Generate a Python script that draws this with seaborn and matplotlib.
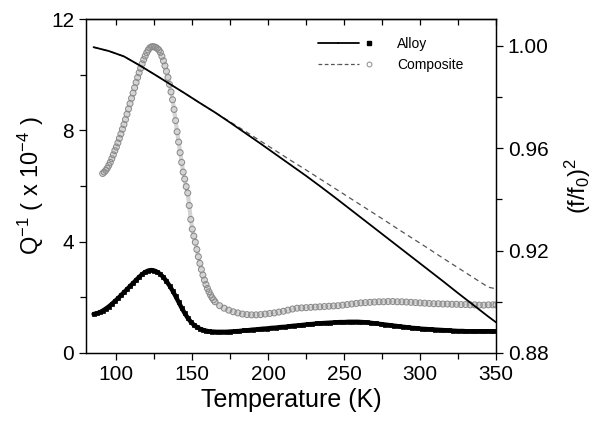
import numpy as np
import pandas as pd
import matplotlib
matplotlib.use('Agg')
import matplotlib.pyplot as plt
from matplotlib.lines import Line2D
from matplotlib.legend_handler import HandlerTuple
import seaborn as sns

# internal friction Q^-1 (x 10^-4), alloy (filled squares)
T_alloy = [85, 87, 89, 91, 93, 95, 97, 99, 101, 103, 105, 107, 109, 111, 113, 115, 117, 119,
           121, 123, 125, 127, 129, 131, 133, 135, 137, 139, 141, 143, 145, 147, 149, 151,
           153, 155, 157, 159, 161, 163, 166, 169, 172, 175, 178, 181, 184, 187, 190, 193,
           196, 199, 202, 205, 208, 211, 214, 217, 220, 223, 226, 229, 232, 235, 238, 241,
           244, 247, 250, 253, 256, 259, 262, 265, 268, 271, 274, 277, 280, 283, 286, 289,
           292, 295, 298, 301, 304, 307, 310, 313, 316, 319, 322, 325, 328, 331, 334, 337,
           340, 343, 346, 349]
Q_alloy = [1.40, 1.42, 1.46, 1.52, 1.59, 1.67, 1.76, 1.86, 1.96, 2.07, 2.18, 2.29, 2.40, 2.51,
           2.62, 2.73, 2.83, 2.91, 2.96, 2.98, 2.96, 2.91, 2.83, 2.72, 2.58, 2.42, 2.24, 2.04,
           1.83, 1.62, 1.43, 1.26, 1.12, 1.01, 0.93, 0.87, 0.83, 0.80, 0.78, 0.77, 0.76, 0.76,
           0.76, 0.77, 0.78, 0.79, 0.81, 0.82, 0.84, 0.85, 0.87, 0.88, 0.90, 0.91, 0.93, 0.94,
           0.96, 0.98, 0.99, 1.01, 1.03, 1.04, 1.06, 1.07, 1.08, 1.09, 1.10, 1.11, 1.11, 1.12,
           1.12, 1.12, 1.11, 1.10, 1.08, 1.06, 1.04, 1.02, 1.00, 0.98, 0.96, 0.94, 0.92, 0.90,
           0.89, 0.87, 0.86, 0.85, 0.84, 0.83, 0.82, 0.81, 0.80, 0.79, 0.79, 0.78, 0.78, 0.78,
           0.78, 0.78, 0.78, 0.78]

# internal friction Q^-1 (x 10^-4), composite (open circles)
T_comp = [91, 92, 93, 94, 95, 96, 97, 98, 99, 100, 101, 102, 103, 104, 105, 106, 107, 108,
          109, 110, 111, 112, 113, 114, 115, 116, 117, 118, 119, 120, 121, 122, 123, 124,
          125, 126, 127, 128, 129, 130, 131, 132, 133, 134, 135, 136, 137, 138, 139, 140,
          141, 142, 143, 144, 145, 146, 147, 148, 149, 150, 151, 152, 153, 154, 155, 156,
          157, 158, 159, 160, 161, 162, 163, 164, 165, 168, 171, 174, 177, 180, 183, 186,
          189, 192, 195, 198, 201, 204, 207, 210, 213, 216, 219, 222, 225, 228, 231, 234,
          237, 240, 243, 246, 249, 252, 255, 258, 261, 264, 267, 270, 273, 276, 279, 282,
          285, 288, 291, 294, 297, 300, 303, 306, 309, 312, 315, 318, 321, 324, 327, 330,
          333, 336, 339, 342, 345, 348, 350]
Q_comp = [6.45, 6.50, 6.56, 6.64, 6.74, 6.85, 6.98, 7.12, 7.27, 7.40, 7.55, 7.71, 7.87, 8.04,
          8.21, 8.39, 8.58, 8.77, 8.96, 9.15, 9.34, 9.53, 9.72, 9.90, 10.07, 10.23, 10.39,
          10.54, 10.67, 10.79, 10.89, 10.96, 11.00, 11.01, 11.00, 10.98, 10.94, 10.89, 10.80,
          10.66, 10.50, 10.32, 10.12, 9.90, 9.65, 9.38, 9.10, 8.75, 8.35, 7.95, 7.58, 7.20,
          6.85, 6.50, 6.25, 5.98, 5.75, 5.30, 4.80, 4.45, 4.20, 3.98, 3.72, 3.46, 3.22, 3.00,
          2.80, 2.62, 2.46, 2.32, 2.20, 2.09, 1.99, 1.91, 1.84, 1.70, 1.61, 1.54, 1.48, 1.44,
          1.40, 1.38, 1.37, 1.37, 1.38, 1.40, 1.42, 1.44, 1.47, 1.50, 1.54, 1.58, 1.61, 1.62,
          1.63, 1.64, 1.65, 1.66, 1.67, 1.68, 1.69, 1.70, 1.72, 1.74, 1.76, 1.78, 1.80, 1.81,
          1.82, 1.83, 1.84, 1.84, 1.85, 1.85, 1.84, 1.84, 1.83, 1.82, 1.81, 1.80, 1.79, 1.78,
          1.77, 1.77, 1.76, 1.76, 1.75, 1.75, 1.74, 1.74, 1.73, 1.73, 1.72, 1.72, 1.73, 1.73,
          1.73]

# modulus (f/f0)^2, right axis
T_mod = [85, 95, 105, 115, 125, 135, 145, 155, 165, 175, 185, 195, 205, 215, 225, 235, 245,
         255, 265, 275, 285, 295, 305, 315, 325, 335, 345, 350]
mod_alloy = [0.9995, 0.9980, 0.9959, 0.9925, 0.9889, 0.9852, 0.9815, 0.9777, 0.9740, 0.9700,
             0.9659, 0.9618, 0.9576, 0.9534, 0.9492, 0.9448, 0.9403, 0.9357, 0.9311, 0.9265,
             0.9219, 0.9173, 0.9127, 0.9081, 0.9034, 0.8988, 0.8942, 0.8920]
mod_comp = [0.9995, 0.9980, 0.9959, 0.9925, 0.9889, 0.9852, 0.9815, 0.9777, 0.9740, 0.9703,
            0.9666, 0.9628, 0.9590, 0.9552, 0.9515, 0.9477, 0.9439, 0.9401, 0.9363, 0.9325,
            0.9286, 0.9248, 0.9210, 0.9171, 0.9133, 0.9095, 0.9057, 0.9051]

sns.set_style('ticks')
plt.rcParams['font.family'] = ['Liberation Sans', 'DejaVu Sans']
plt.rcParams['mathtext.default'] = 'regular'
for k in ('text.color', 'axes.labelcolor', 'xtick.color', 'ytick.color', 'axes.edgecolor'):
    plt.rcParams[k] = 'black'

fig = plt.figure(figsize=(5.98, 4.23), dpi=100)
ax = fig.add_axes([0.1438, 0.1655, 0.6856, 0.7895])

# composite: open gray circles on a faint band
sns.lineplot(x=T_comp, y=Q_comp, ax=ax, color='#d4d4d4', linewidth=3.0, zorder=1)
sns.scatterplot(x=T_comp, y=Q_comp, ax=ax, marker='o', s=18, facecolor='none',
                edgecolor='#8c8c8c', linewidth=0.8, zorder=2)
# alloy: thick band of black squares
sns.lineplot(x=T_alloy, y=Q_alloy, ax=ax, color='black', linewidth=3.2, zorder=3)
sns.scatterplot(x=T_alloy, y=Q_alloy, ax=ax, marker='s', s=12, color='black',
                edgecolor='black', linewidth=0.5, zorder=3)

ax.set_xlim(80, 350)
ax.set_ylim(0, 12)
ax.set_xticks([100, 150, 200, 250, 300, 350])
ax.set_xticks([125, 175, 225, 275, 325], minor=True)
ax.set_yticks([0, 4, 8, 12])
ax.set_yticks([2, 6, 10], minor=True)
ax.set_xlabel('Temperature (K)', fontsize=18, labelpad=3)
ax.set_ylabel('Q$^{-1}$ ( x 10$^{-4}$ )', fontsize=17, labelpad=4)
ax.tick_params(which='major', direction='out', length=5, width=0.9, labelsize=15,
               top=False, right=False)
ax.tick_params(which='minor', direction='out', length=4, width=0.9, top=False, right=False)

top = ax.secondary_xaxis('top')
top.set_xticks([100, 150, 200, 250, 300, 350])
top.set_xticks([125, 175, 225, 275, 325], minor=True)
top.tick_params(which='both', direction='in', length=4, width=0.9, labeltop=False)

ax2 = ax.twinx()
sns.lineplot(x=T_mod, y=mod_comp, ax=ax2, color='#555555', linewidth=0.9,
             linestyle=(0, (4, 3)))
sns.lineplot(x=T_mod, y=mod_alloy, ax=ax2, color='black', linewidth=1.3)
ax2.set_ylim(0.88, 1.0105)
ax2.set_yticks([0.88, 0.92, 0.96, 1.00])
ax2.set_yticks([0.90, 0.94, 0.98], minor=True)
ax2.set_yticklabels(['0.88', '0.92', '0.96', '1.00'])
ax2.tick_params(which='major', direction='out', length=5, width=0.9, labelsize=15)
ax2.tick_params(which='minor', direction='out', length=4, width=0.9)
ax2.set_ylabel('(f/f$_0$)$^2$', fontsize=17, labelpad=10)

for a in (ax, ax2):
    for sp in a.spines.values():
        sp.set_visible(True)
        sp.set_linewidth(0.9)
        sp.set_color('black')
top.spines['top'].set_linewidth(0.9)

# legend: line followed by marker
h_alloy = (Line2D([], [], color='black', lw=1.3), Line2D([], [], color='black', lw=1.3),
           Line2D([], [], ls='none', marker='s', ms=3, color='black'))
h_comp = (Line2D([], [], color='#555555', lw=0.9, ls=(0, (3, 2))),
          Line2D([], [], color='#555555', lw=0.9, ls=(0, (3, 2))),
          Line2D([], [], ls='none', marker='o', ms=3.5, mfc='none', mec='#8c8c8c', mew=0.7))
ax2.legend([h_alloy, h_comp], ['Alloy', 'Composite'],
           handler_map={tuple: HandlerTuple(ndivide=None, pad=0)},
           loc='upper left', bbox_to_anchor=(0.535, 0.985), frameon=False, fontsize=10,
           handlelength=4.4, handletextpad=1.3, labelspacing=0.55)

fig.savefig('out.png', dpi=100)
